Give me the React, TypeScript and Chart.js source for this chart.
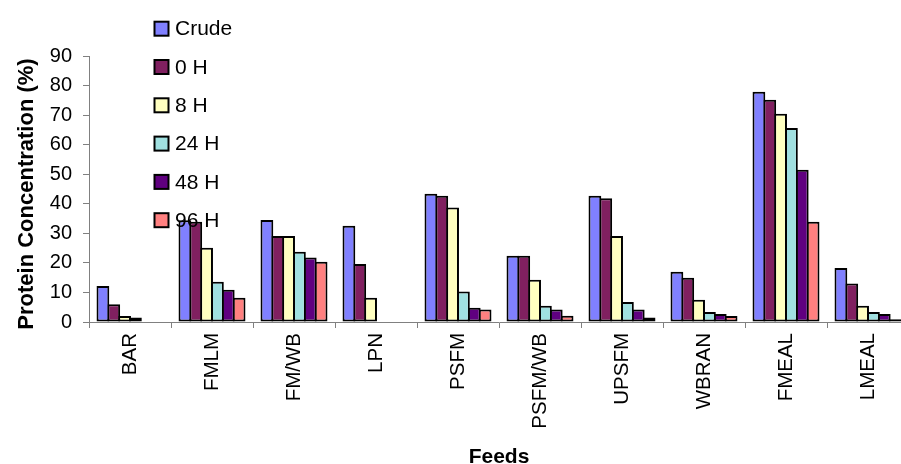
import React, { useEffect, useRef } from "react";
import { Chart, registerables } from "chart.js";

Chart.register(...registerables);

const categories = ["BAR", "FMLM", "FM/WB", "LPN", "PSFM", "PSFM/WB", "UPSFM", "WBRAN", "FMEAL", "LMEAL"];
const seriesNames = ["Crude", "0 H", "8 H", "24 H", "48 H", "96 H"];
const seriesColors = ["#8080FF", "#802060", "#FFFFC0", "#A0E0E0", "#600080", "#FF8080"];

const crude = [12.2, 34.4, 34.5, 32.6, 43.4, 22.4, 42.7, 17.0, 77.9, 18.3];
const h0 = [6.0, 33.9, 29.1, 19.6, 42.7, 22.4, 41.9, 15.0, 75.2, 13.0];
const h8 = [2.0, 25.1, 29.1, 8.2, 38.7, 14.3, 29.1, 7.5, 70.5, 5.5];
const h24 = [1.5, 13.6, 23.8, null, 10.3, 5.5, 6.8, 3.4, 65.6, 3.4];
const h48 = [null, 10.9, 21.8, null, 4.8, 4.2, 4.2, 2.7, 51.5, 2.7];
const h96 = [null, 8.2, 20.4, null, 4.2, 2.1, 1.5, 2.0, 33.9, 0.9];

const seriesValues = [crude, h0, h8, h24, h48, h96];
const yTicks = [0, 10, 20, 30, 40, 50, 60, 70, 80, 90];

const FONT = "'Liberation Sans', Arial, sans-serif";

const overlayPlugin = {
  id: "overlay",
  afterDatasetsDraw(chart: any) {
    const ctx = chart.ctx;
    ctx.save();
    chart.data.datasets.forEach((ds: any, i: number) => {
      const cy = 28.7 + 38.3 * i;
      ctx.fillStyle = ds.backgroundColor;
      ctx.fillRect(154.5, cy - 7, 14, 14);
      ctx.lineWidth = 2;
      ctx.strokeStyle = "#000";
      ctx.strokeRect(154.5, cy - 7, 14, 14);
      ctx.fillStyle = "#000";
      ctx.font = `21px ${FONT}`;
      ctx.textAlign = "left";
      ctx.textBaseline = "middle";
      ctx.fillText(ds.label, 175, cy + 1);
    });
    ctx.restore();
  },
  afterDraw(chart: any) {
    const ctx = chart.ctx;
    const area = chart.chartArea;
    ctx.save();
    ctx.fillStyle = "#000";
    ctx.font = `bold 21px ${FONT}`;
    ctx.textAlign = "center";
    ctx.textBaseline = "alphabetic";
    ctx.fillText("Feeds", (area.left + area.right) / 2, 462.5);
    ctx.font = `bold 22px ${FONT}`;
    ctx.translate(33, 194);
    ctx.rotate(-Math.PI / 2);
    ctx.fillText("Protein Concentration (%)", 0, 0);
    ctx.restore();
  },
};

export default function App() {
  const ref = useRef<HTMLCanvasElement | null>(null);
  useEffect(() => {
    if (!ref.current) return;
    const chart = new Chart(ref.current, {
      type: "bar",
      data: {
        labels: categories,
        datasets: seriesNames.map((name, i) => ({
          label: name,
          data: seriesValues[i],
          backgroundColor: seriesColors[i],
          borderColor: "#000",
          borderWidth: 2,
          borderSkipped: false,
          barPercentage: 1.18,
          categoryPercentage: 0.793,
        })),
      },
      options: {
        responsive: false,
        animation: false,
        devicePixelRatio: 1,
        layout: { padding: { left: 0, top: 56, right: 21, bottom: 0 } },
        plugins: { legend: { display: false }, tooltip: { enabled: false } },
        scales: {
          x: {
            grid: { offset: true, drawOnChartArea: false, tickLength: 6, color: "#808080" },
            border: { color: "#808080", width: 1 },
            ticks: {
              autoSkip: false,
              minRotation: 90,
              maxRotation: 90,
              padding: 5,
              color: "#000",
              font: { family: FONT, size: 20.5 },
            },
            afterFit(scale: any) {
              scale.height = 142;
            },
          },
          y: {
            min: 0,
            max: 90,
            afterBuildTicks(scale: any) {
              scale.ticks = yTicks.map((v) => ({ value: v }));
            },
            grid: { drawOnChartArea: false, tickLength: 6, color: "#808080" },
            border: { color: "#808080", width: 1 },
            ticks: {
              padding: 11,
              color: "#000",
              font: { family: FONT, size: 20 },
            },
            afterFit(scale: any) {
              scale.width = 89;
            },
          },
        },
      },
      plugins: [overlayPlugin],
    });
    return () => chart.destroy();
  }, []);
  return (
    <div style={{ position: "fixed", left: 0, top: 0, width: 901, height: 464, overflow: "hidden", background: "#fff" }}>
      <canvas ref={ref} width={930} height={464} style={{ display: "block", width: 930, height: 464 }} />
    </div>
  );
}
